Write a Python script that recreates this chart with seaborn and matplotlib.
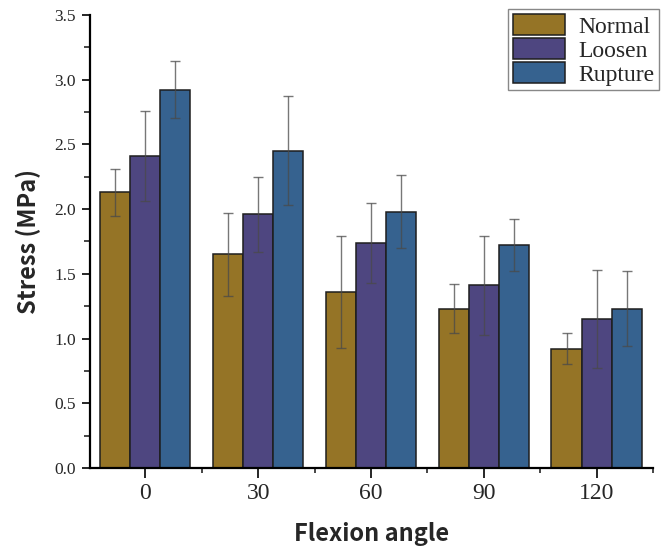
import numpy as np
import pandas as pd
import matplotlib
matplotlib.use("Agg")
import matplotlib.pyplot as plt
from matplotlib.ticker import MultipleLocator, FixedLocator
import seaborn as sns

# data
angles = ["0", "30", "60", "90", "120"]
groups = ["Normal", "Loosen", "Rupture"]
normal_mean = [2.13, 1.65, 1.36, 1.23, 0.92]
normal_err = [0.18, 0.32, 0.43, 0.19, 0.12]
loosen_mean = [2.41, 1.96, 1.74, 1.41, 1.15]
loosen_err = [0.35, 0.29, 0.31, 0.38, 0.38]
rupture_mean = [2.92, 2.45, 1.98, 1.72, 1.23]
rupture_err = [0.22, 0.42, 0.28, 0.20, 0.29]

colors = ["#957426", "#4e4680", "#36628f"]

means = {"Normal": normal_mean, "Loosen": loosen_mean, "Rupture": rupture_mean}
errs = {"Normal": normal_err, "Loosen": loosen_err, "Rupture": rupture_err}

rows = []
for g in groups:
    for a, m in zip(angles, means[g]):
        rows.append({"angle": a, "group": g, "stress": m})
df = pd.DataFrame(rows)

sns.set_style("white")
plt.rcParams["font.family"] = ["Noto Sans CJK SC", "DejaVu Sans"]

fig = plt.figure(figsize=(6.67, 5.5), dpi=100)
ax = fig.add_axes([0.135, 0.149, 0.844, 0.824])

sns.barplot(data=df, x="angle", y="stress", hue="group", order=angles,
            hue_order=groups, palette=colors, errorbar=None, width=0.8,
            edgecolor="#1e1e1e", linewidth=1.1, saturation=1, ax=ax)

# error bars on top of each bar
for cont, g in zip(ax.containers, groups):
    xs = [b.get_x() + b.get_width() / 2 for b in cont]
    ax.errorbar(xs, means[g], yerr=errs[g], fmt="none", ecolor="#4a4a4a",
                elinewidth=1.0, capsize=3.3, capthick=1.0, alpha=0.75, zorder=5)

ax.set_xlim(-0.49, 4.5)
ax.set_ylim(0, 3.5)

for s in ["top", "right"]:
    ax.spines[s].set_visible(False)
for s in ["left", "bottom"]:
    ax.spines[s].set_color("black")
    ax.spines[s].set_linewidth(1.6)

ax.yaxis.set_major_locator(MultipleLocator(0.5))
ax.yaxis.set_minor_locator(MultipleLocator(0.25))
ax.xaxis.set_minor_locator(FixedLocator([-0.5, 0.5, 1.5, 2.5, 3.5, 4.5]))
ax.tick_params(axis="y", which="major", direction="out", length=6, width=1.4,
               left=True, labelsize=12.5, pad=4)
ax.tick_params(axis="y", which="minor", direction="out", length=4, width=1.2, left=True)
ax.tick_params(axis="x", which="major", direction="out", length=7, width=1.4,
               bottom=True, labelsize=17, pad=4)
ax.tick_params(axis="x", which="minor", direction="out", length=3.5, width=1.2, bottom=True)

ax.set_yticks(np.arange(0, 3.51, 0.5))
ax.set_yticklabels([f"{v:.1f}" for v in np.arange(0, 3.51, 0.5)], family="Liberation Serif")
ax.set_xticks(range(len(angles)))
ax.set_xticklabels(angles, family="Liberation Serif")

ax.set_xlabel("Flexion angle", fontsize=17, fontweight="bold", labelpad=13)
ax.set_ylabel("Stress (MPa)", fontsize=17, fontweight="bold", labelpad=10)

leg = ax.legend(loc="upper right", bbox_to_anchor=(0.988, 0.984),
                bbox_transform=fig.transFigure, frameon=True, fancybox=False,
                edgecolor="#888888", framealpha=1, prop={"family": "Liberation Serif", "size": 17},
                handlelength=2.2, handleheight=1.05, labelspacing=0.0,
                handletextpad=0.55, borderpad=0.2, borderaxespad=0)
leg.get_frame().set_linewidth(1.0)
for h in leg.legend_handles:
    h.set_edgecolor("#1e1e1e")

fig.savefig("out.png", dpi=100)
